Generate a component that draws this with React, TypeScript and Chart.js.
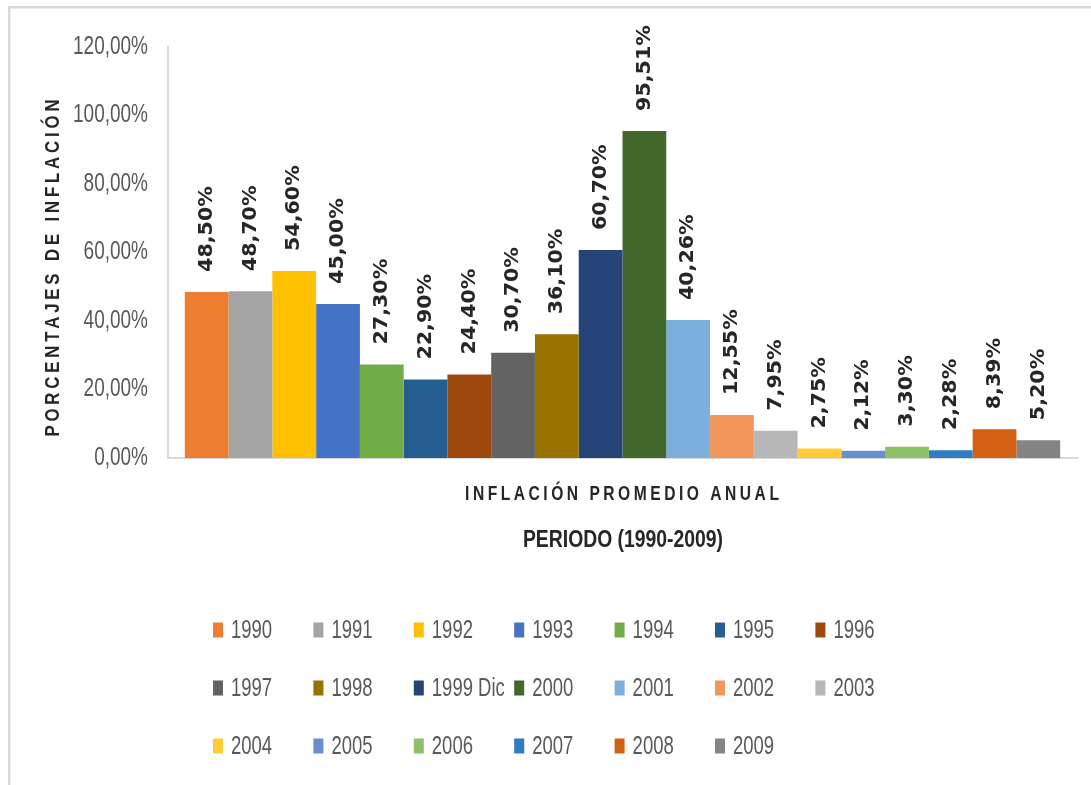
import React, { useEffect, useRef } from "react";
import { Chart, registerables } from "chart.js";

Chart.register(...registerables);

const years = [
  "1990", "1991", "1992", "1993", "1994", "1995", "1996",
  "1997", "1998", "1999 Dic", "2000", "2001", "2002", "2003",
  "2004", "2005", "2006", "2007", "2008", "2009",
];
const inflation = [
  48.5, 48.7, 54.6, 45.0, 27.3, 22.9, 24.4,
  30.7, 36.1, 60.7, 95.51, 40.26, 12.55, 7.95,
  2.75, 2.12, 3.3, 2.28, 8.39, 5.2,
];
const colors = [
  "#ED7D31", "#A5A5A5", "#FFC000", "#4472C4", "#70AD47", "#255E91", "#9E480E",
  "#636363", "#997300", "#264478", "#43682B", "#7CAFDD", "#F1975A", "#B7B7B7",
  "#FFCD33", "#698ED0", "#8CC168", "#2F7BC4", "#D26012", "#848484",
];
const yTicks = [0, 20, 40, 60, 80, 100, 120];
const yTitle = "PORCENTAJES DE INFLACIÓN";
const xTitle1 = "INFLACIÓN PROMEDIO ANUAL";
const xTitle2 = "PERIODO (1990-2009)";

const SANS = "'Liberation Sans', Arial, sans-serif";
const LABEL_FONT = "'DejaVu Sans', 'Liberation Sans', sans-serif";
const GRAY_X = 0.76;

const fmt = (v: number) => v.toFixed(2).replace(".", ",") + "%";

function drawText(
  ctx: CanvasRenderingContext2D,
  text: string,
  x: number,
  y: number,
  o: { font: string; color: string; align?: CanvasTextAlign; sx?: number; spacing?: number; rotate?: number }
) {
  ctx.save();
  ctx.translate(x, y);
  if (o.rotate) ctx.rotate(o.rotate);
  ctx.scale(o.sx ?? 1, 1);
  ctx.font = o.font;
  ctx.fillStyle = o.color;
  ctx.textAlign = o.align ?? "left";
  ctx.textBaseline = "middle";
  const sp = o.spacing ?? 0;
  (ctx as any).letterSpacing = sp + "px";
  const dx = o.align === "center" ? sp / 2 : 0;
  ctx.fillText(text, dx, 0);
  ctx.restore();
}

const framePlugin = {
  id: "frame",
  beforeDraw(chart: any) {
    const ctx = chart.ctx;
    ctx.save();
    ctx.fillStyle = "#ffffff";
    ctx.fillRect(0, 0, chart.width, chart.height);
    ctx.fillStyle = "#d9d9d9";
    ctx.fillRect(8, 6, chart.width - 8, 2.5);
    ctx.fillRect(8, 6, 2.5, chart.height - 6);
    ctx.restore();
  },
};

const yTickPlugin = {
  id: "yTickLabels",
  afterDraw(chart: any) {
    const ctx = chart.ctx;
    const ys = chart.scales.y;
    ys.ticks.forEach((t: any) => {
      drawText(ctx, fmt(t.value), 148, ys.getPixelForValue(t.value), {
        font: `25px ${SANS}`,
        color: "#595959",
        align: "right",
        sx: GRAY_X,
      });
    });
  },
};

const labelsPlugin = {
  id: "barLabels",
  afterDatasetsDraw(chart: any) {
    const ctx = chart.ctx;
    chart.data.datasets.forEach((ds: any, i: number) => {
      const el = chart.getDatasetMeta(i).data[0];
      if (!el) return;
      drawText(ctx, fmt(ds.data[0]), el.x, el.y - 20, {
        font: `bold 20px ${LABEL_FONT}`,
        color: "#262626",
        align: "left",
        rotate: -Math.PI / 2,
        sx: 1.03,
      });
    });
  },
};

const titlesPlugin = {
  id: "titles",
  afterDraw(chart: any) {
    const ctx = chart.ctx;
    drawText(ctx, xTitle1, 622, 494, {
      font: `bold 20px ${SANS}`,
      color: "#262626",
      align: "center",
      sx: 0.78,
      spacing: 4.5,
    });
    drawText(ctx, xTitle2, 623, 540, {
      font: `bold 24.5px ${SANS}`,
      color: "#262626",
      align: "center",
      sx: 0.79,
    });
    drawText(ctx, yTitle, 53, 268, {
      font: `bold 21px ${SANS}`,
      color: "#262626",
      align: "center",
      sx: 0.8,
      spacing: 4.8,
      rotate: -Math.PI / 2,
    });
  },
};

const legendPlugin = {
  id: "gridLegend",
  afterDraw(chart: any) {
    const ctx = chart.ctx;
    const perRow = 7;
    const x0 = 213;
    const colW = 100.4;
    const rowY = [630, 688, 746];
    chart.data.datasets.forEach((ds: any, i: number) => {
      const r = Math.floor(i / perRow);
      const c = i % perRow;
      const x = x0 + c * colW;
      const y = rowY[r];
      ctx.save();
      ctx.fillStyle = ds.backgroundColor;
      ctx.fillRect(x, y - 7.5, 10, 15);
      ctx.restore();
      drawText(ctx, ds.label, x + 18, y + 1, {
        font: `25px ${SANS}`,
        color: "#595959",
        align: "left",
        sx: 0.74,
      });
    });
  },
};

export default function App() {
  const ref = useRef<HTMLCanvasElement | null>(null);
  useEffect(() => {
    if (!ref.current) return;
    const chart = new Chart(ref.current, {
      type: "bar",
      data: {
        labels: [""],
        datasets: years.map((y, i) => ({
          label: y,
          data: [inflation[i]],
          backgroundColor: colors[i],
          borderWidth: 0,
          categoryPercentage: 0.963,
          barPercentage: 1,
        })),
      },
      options: {
        responsive: false,
        animation: false,
        layout: { padding: { left: 0, top: 47, right: 14, bottom: 327 } },
        plugins: {
          legend: { display: false },
          tooltip: { enabled: false },
          title: { display: false },
        },
        scales: {
          x: {
            type: "category",
            ticks: { display: false },
            grid: { display: false, drawTicks: false },
            border: { display: true, color: "#d9d9d9", width: 2 },
            afterFit: (s: any) => {
              s.height = 0;
            },
          },
          y: {
            min: yTicks[0],
            max: yTicks[yTicks.length - 1],
            afterBuildTicks: (s: any) => {
              s.ticks = yTicks.map((v) => ({ value: v }));
            },
            ticks: { display: false },
            grid: { display: false, drawTicks: false },
            border: { display: true, color: "#d9d9d9", width: 2 },
            afterFit: (s: any) => {
              s.width = 168;
            },
          },
        },
      },
      plugins: [framePlugin, labelsPlugin, yTickPlugin, titlesPlugin, legendPlugin],
    } as any);
    return () => chart.destroy();
  }, []);
  return (
    <div style={{ position: "absolute", left: 0, top: 0, width: 1091, height: 785, background: "#fff" }}>
      <canvas ref={ref} width={1091} height={785} style={{ display: "block" }} />
    </div>
  );
}
